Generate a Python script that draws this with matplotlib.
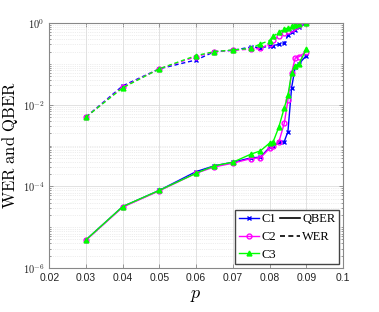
import numpy as np
import matplotlib
matplotlib.use('Agg')
import matplotlib.pyplot as plt
from matplotlib.lines import Line2D
from matplotlib.ticker import LogLocator, NullFormatter, FormatStrFormatter

# error rates vs depolarizing probability p
p = [0.03, 0.04, 0.05, 0.06, 0.065, 0.07, 0.075, 0.0775, 0.08, 0.081,
     0.0825, 0.084, 0.085, 0.086, 0.087, 0.088, 0.09]

qber_c1 = [4.9e-6, 3.2e-5, 8.0e-5, 2.3e-4, 3.2e-4, 3.9e-4, 5.0e-4, 5.2e-4, 9.0e-4, 1.0e-3,
           1.2e-3, 1.25e-3, 2.2e-3, 2.6e-2, 8.5e-2, 1.0e-1, 1.6e-1]
qber_c2 = [4.8e-6, 3.1e-5, 7.8e-5, 2.1e-4, 3.0e-4, 3.7e-4, 4.8e-4, 5.0e-4, 8.5e-4, 9.5e-4,
           1.2e-3, 3.5e-3, 1.3e-2, 6.0e-2, 1.4e-1, 1.5e-1, 2.0e-1]
qber_c3 = [4.9e-6, 3.2e-5, 8.0e-5, 2.1e-4, 3.2e-4, 3.9e-4, 6.2e-4, 7.4e-4, 1.15e-3, 1.25e-3,
           2.8e-3, 8.3e-3, 1.7e-2, 6.0e-2, 9.0e-2, 1.0e-1, 2.3e-1]

wer_c1 = [5.0e-3, 2.9e-2, 7.6e-2, 1.25e-1, 2.0e-1, 2.15e-1, 2.6e-1, 2.5e-1, 2.7e-1, 2.8e-1,
          3.0e-1, 3.2e-1, 5.0e-1, 6.0e-1, 6.8e-1, 7.8e-1, 1.0]
wer_c2 = [5.0e-3, 2.7e-2, 7.6e-2, 1.5e-1, 2.0e-1, 2.15e-1, 2.3e-1, 2.4e-1, 3.1e-1, 3.8e-1,
          4.8e-1, 5.8e-1, 6.5e-1, 7.2e-1, 8.0e-1, 8.8e-1, 1.0]
wer_c3 = [5.0e-3, 2.6e-2, 7.6e-2, 1.6e-1, 2.0e-1, 2.2e-1, 2.4e-1, 3.1e-1, 3.7e-1, 4.7e-1,
          6.0e-1, 7.0e-1, 7.6e-1, 8.4e-1, 9.2e-1, 9.7e-1, 1.0]

codes = ['C1', 'C2', 'C3']
colors = ['#0000ff', '#ff00ff', '#00ff00']
markers = ['x', 'o', '^']
qber = [qber_c1, qber_c2, qber_c3]
wer = [wer_c1, wer_c2, wer_c3]

plt.rcParams['mathtext.fontset'] = 'cm'

fig = plt.figure(figsize=(3.79, 3.12), dpi=100)
ax = fig.add_axes([0.130, 0.141, 0.775, 0.785])

for name, col, mk, q, w in zip(codes, colors, markers, qber, wer):
    mfc = 'none' if mk == 'o' else col
    ax.plot(p, q, color=col, marker=mk, ms=3.5, mew=1.0, mfc=mfc, lw=1.0)
    ax.plot(p, w, color=col, marker=mk, ms=3.5, mew=1.0, mfc=mfc, lw=1.0,
            linestyle=(0, (3, 2)))

ax.set_yscale('log')
ax.set_xlim(0.02, 0.1)
ax.set_ylim(1e-6, 1)
ax.set_xticks(np.arange(0.02, 0.1001, 0.01))
ax.xaxis.set_major_formatter(FormatStrFormatter('%g'))
ax.set_yticks([1e-6, 1e-4, 1e-2, 1])
ax.set_yticklabels(['$\\mathsf{10^{-6}}$', '$\\mathsf{10^{-4}}$',
                    '$\\mathsf{10^{-2}}$', '$\\mathsf{10^{0}}$'])
ax.yaxis.set_minor_locator(LogLocator(base=10, subs=np.arange(1, 10), numticks=50))
ax.yaxis.set_minor_formatter(NullFormatter())

ax.grid(True, which='major', color='#dddddd', lw=0.6)
ax.grid(True, which='minor', axis='y', color='#dddddd', lw=0.5, linestyle=':')
ax.set_axisbelow(True)
for s in ax.spines.values():
    s.set_color('#888888')
    s.set_linewidth(0.8)
ax.tick_params(which='both', direction='in', top=True, right=True, colors='#888888',
               labelcolor='#222222', labelsize=7.5, length=3, width=0.6)
ax.tick_params(which='minor', length=1.5)
for lab in ax.get_xticklabels():
    lab.set_family('Liberation Sans')

ax.set_xlabel('$p$', fontsize=13, labelpad=2)
ax.set_ylabel('$\\mathrm{WER\\ and\\ QBER}$', fontsize=12, labelpad=2)

handles = [Line2D([], [], color=c, marker=m, ms=3.5, lw=1.0,
                  mfc=('none' if m == 'o' else c)) for c, m in zip(colors, markers)]
handles += [Line2D([], [], color='k', lw=1.2),
            Line2D([], [], color='k', lw=1.2, linestyle=(0, (3, 2)))]
labels = codes + ['QBER', 'WER']
ax.legend(handles, labels, loc='lower right', ncol=2,
          prop={'family': 'Liberation Serif', 'size': 9},
          handlelength=1.6, handletextpad=0.2, columnspacing=0.3, labelspacing=0.45,
          borderpad=0.3, fancybox=False, edgecolor='#444444', framealpha=1,
          borderaxespad=0.3)

fig.savefig('out.png', dpi=100)
